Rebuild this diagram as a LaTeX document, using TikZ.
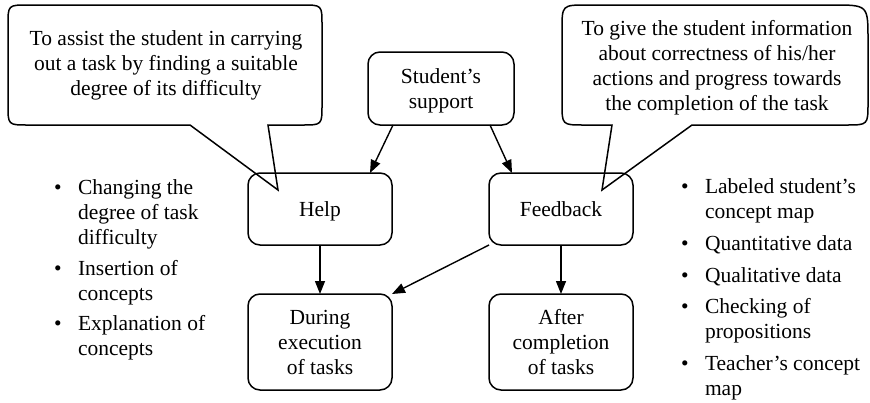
\documentclass[tikz,border=0pt]{standalone}
\usepackage{fontspec}
\setmainfont{Liberation Serif}
\usetikzlibrary{arrows.meta,calc}
\newcommand\lnstrut{\rule[-5.5pt]{0pt}{25pt}}
\begin{document}
\begin{tikzpicture}[x=1pt,y=-1pt,
  txt/.style={font=\fontsize{21.5}{25}\selectfont, inner sep=0pt, outer sep=0pt},
  box/.style={txt, draw, line width=1.5pt, rounded corners=12pt, minimum width=144pt, align=center},
  callout/.style={draw, line width=1.5pt, line join=miter},
  arr/.style={line width=1.4pt, -{Triangle[length=13pt,width=10pt]}},
  bul/.style={txt, anchor=base},
  listtext/.style={txt, anchor=north west, align=left},
  calltext/.style={txt, anchor=north, align=center},
]
\useasboundingbox (0,0) rectangle (870,402);

% callouts
\draw[callout] (190,125) -- (278,190) -- (268,125) -- (302,125)
  .. controls (322,125) .. (322,105) -- (322,25)
  .. controls (322,5) .. (302,5) -- (28,5)
  .. controls (8,5) .. (8,25) -- (8,105)
  .. controls (8,125) .. (28,125) -- cycle;
\draw[callout] (612,125) -- (602,190) -- (692,125) -- (846,125)
  .. controls (868,125) .. (868,103) -- (868,40)
  .. controls (868,5) .. (833,5) -- (587,5)
  .. controls (562,5) .. (562,30) -- (562,103)
  .. controls (562,125) .. (584,125) -- cycle;

\node[calltext] (cl) at (166,25.5) {\lnstrut To assist the student in carrying\\\lnstrut out a task by finding a suitable\\\lnstrut degree of its difficulty};
\node[calltext] (cr) at (717,15.5) {\lnstrut To give the student information\\\lnstrut about correctness of his/her\\\lnstrut actions and progress towards\\\lnstrut the completion of the task};

% boxes
\node[box, minimum width=146pt, minimum height=73pt] (sup) at (441,88.5) {\lnstrut Student’s\\\lnstrut support};
\node[box, minimum height=72pt] (help) at (320,209) {\lnstrut Help};
\node[box, minimum height=72pt] (fb) at (561,209) {\lnstrut Feedback};
\node[box, minimum height=96pt] (during) at (320,342) {\lnstrut During\\\lnstrut execution\\\lnstrut of tasks};
\node[box, minimum height=96pt] (after) at (561,342) {\lnstrut After\\\lnstrut completion\\\lnstrut of tasks};

% arrows
\draw[arr] ($(sup.south west)+(25,0)$) -- ($(help.north east)+(-22,0)$);
\draw[arr] ($(sup.south east)+(-24,0)$) -- ($(fb.north west)+(23,0)$);
\draw[arr] (help.south) -- (during.north);
\draw[arr] (fb.south) -- (after.north);
\draw[arr] (fb.south west) -- (during.north east);

% left list
\node[bul] (lb1) at (58,194) {\textbullet};
\node[listtext] (lt1) at (78,174.5) {\lnstrut Changing the\\\lnstrut degree of task\\\lnstrut difficulty};
\node[bul] (lb2) at (58,275) {\textbullet};
\node[listtext] (lt2) at (78,255.5) {\lnstrut Insertion of\\\lnstrut concepts};
\node[bul] (lb3) at (58,330) {\textbullet};
\node[listtext] (lt3) at (78,310.5) {\lnstrut Explanation of\\\lnstrut concepts};

% right list
\node[bul] (rb1) at (685,193) {\textbullet};
\node[listtext] (rt1) at (705,173.5) {\lnstrut Labeled student’s\\\lnstrut concept map};
\node[bul] (rb2) at (685,250) {\textbullet};
\node[listtext] (rt2) at (705,230.5) {\lnstrut Quantitative data};
\node[bul] (rb3) at (685,282) {\textbullet};
\node[listtext] (rt3) at (705,262.5) {\lnstrut Qualitative data};
\node[bul] (rb4) at (685,313) {\textbullet};
\node[listtext] (rt4) at (705,293.5) {\lnstrut Checking of\\\lnstrut propositions};
\node[bul] (rb5) at (685,370) {\textbullet};
\node[listtext] (rt5) at (705,350.5) {\lnstrut Teacher’s concept\\\lnstrut map};
\end{tikzpicture}
\end{document}
